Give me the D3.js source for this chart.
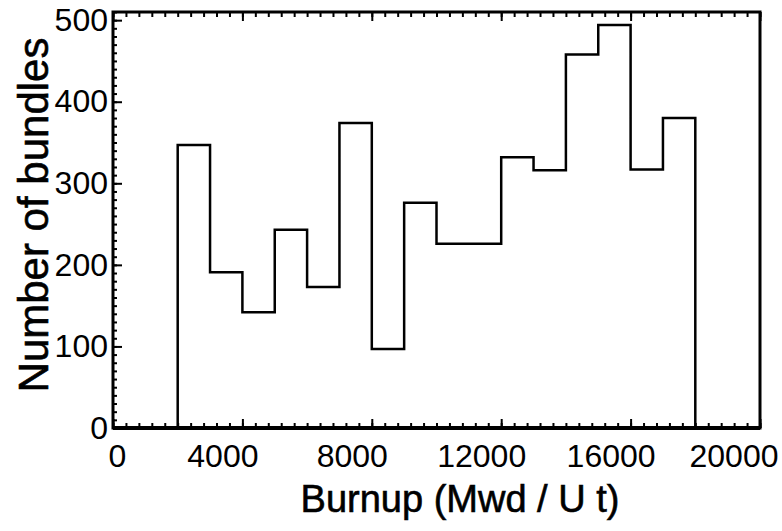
<!DOCTYPE html>
<html>
<head>
<meta charset="utf-8">
<script src="https://cdn.jsdelivr.net/npm/d3@7"></script>
<style>
  body { margin: 0; background: #fff; }
  text { font-family: "Liberation Sans", Arial, sans-serif; fill: #000; }
</style>
</head>
<body>
<div id="chart-area"></div>
<script>

// data
let binStarts = [2000, 3000, 4000, 5000, 6000, 7000, 8000, 9000,
                 10000, 11000, 12000, 13000, 14000, 15000, 16000, 17000];
let binWidth = 1000;
let counts = [347, 191, 142, 243, 173, 374, 97, 276,
              226, 226, 332, 316, 458, 494, 317, 380];

let xTicks = [0, 4000, 8000, 12000, 16000, 20000];
let yTicks = [0, 100, 200, 300, 400, 500];

// SVG drawing area
let margin = {top: 12, right: 22, bottom: 103, left: 113};

let width = 782 - margin.left - margin.right,
    height = 531 - margin.top - margin.bottom;

let svg = d3.select("#chart-area").append("svg")
    .attr("width", 782)
    .attr("height", 531)
  .append("g")
    .attr("transform", "translate(" + margin.left + "," + margin.top + ")");

// Scales
let x = d3.scaleLinear()
    .domain([0, 20000])
    .range([0, width]);

let y = d3.scaleLinear()
    .domain([0, 510])
    .range([height, 0]);

// minor ticks (no labels)
svg.append("g")
    .attr("transform", "translate(0," + height + ")")
    .call(d3.axisBottom(x).tickValues(d3.range(0, 20001, 400)).tickSize(-5).tickSizeOuter(0).tickFormat(""));

svg.append("g")
    .call(d3.axisTop(x).tickValues(d3.range(0, 20001, 400)).tickSize(-5).tickSizeOuter(0).tickFormat(""));

svg.append("g")
    .call(d3.axisLeft(y).tickValues(d3.range(0, 511, 10)).tickSize(-4).tickSizeOuter(0).tickFormat(""));

// major ticks
let xAxis = svg.append("g")
    .attr("class", "x-axis")
    .attr("transform", "translate(0," + height + ")")
    .call(d3.axisBottom(x).tickValues(xTicks).tickSize(-9).tickSizeOuter(0)
        .tickPadding(16).tickFormat(d3.format("d")));

svg.append("g")
    .call(d3.axisTop(x).tickValues(xTicks).tickSize(-9).tickSizeOuter(0).tickFormat(""));

let yAxis = svg.append("g")
    .attr("class", "y-axis")
    .call(d3.axisLeft(y).tickValues(yTicks).tickSize(-9).tickSizeOuter(0)
        .tickPadding(5).tickFormat(d3.format("d")));

svg.selectAll(".domain").remove();
svg.selectAll(".tick line").attr("stroke", "#000").attr("stroke-width", 2);

// labels in the original sit a bit left of their ticks; last one is pulled in
let lastTick = xTicks[xTicks.length - 1];
xAxis.selectAll("text")
    .style("font-size", "32px")
    .attr("text-anchor", d => d === lastTick ? "end" : "middle")
    .attr("dx", d => d === 0 ? 4 : (d === lastTick ? 18 : -20));

yAxis.selectAll("text")
    .style("font-size", "32px");

// frame
svg.append("rect")
    .attr("x", 0)
    .attr("y", 0)
    .attr("width", width)
    .attr("height", height)
    .attr("fill", "none")
    .attr("stroke", "#000")
    .attr("stroke-width", 3);

svg.append("line")
    .attr("x1", 0).attr("x2", width)
    .attr("y1", height).attr("y2", height)
    .attr("stroke", "#000")
    .attr("stroke-width", 4);

// histogram outline
let pts = [[binStarts[0], 0]];
binStarts.forEach(function(b, i) {
    pts.push([b, counts[i]]);
    pts.push([b + binWidth, counts[i]]);
});
pts.push([binStarts[binStarts.length - 1] + binWidth, 0]);

let line = d3.line()
    .x(d => x(d[0]))
    .y(d => y(d[1]));

svg.append("path")
    .datum(pts)
    .attr("d", line)
    .attr("fill", "none")
    .attr("stroke", "#000")
    .attr("stroke-width", 2.5)
    .attr("stroke-linejoin", "miter");

// axis titles
svg.append("text")
    .attr("x", 347)
    .attr("y", 500)
    .attr("text-anchor", "middle")
    .style("font-size", "38px")
    .style("stroke", "#000")
    .style("stroke-width", 0.6)
    .text("Burnup (Mwd / U t)");

svg.append("text")
    .attr("transform", "translate(-65," + (215 - margin.top) + ") rotate(-90)")
    .attr("text-anchor", "middle")
    .style("font-size", "42px")
    .style("stroke", "#000")
    .style("stroke-width", 0.6)
    .text("Number of bundles");

</script>
</body>
</html>
